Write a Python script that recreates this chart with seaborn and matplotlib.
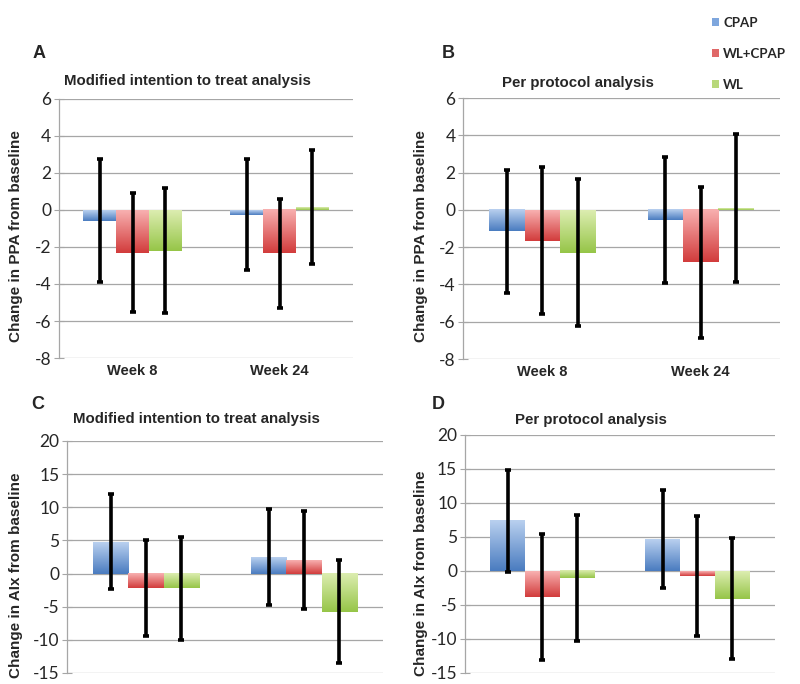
import numpy as np
import pandas as pd
import matplotlib
matplotlib.use("Agg")
import matplotlib.pyplot as plt
import seaborn as sns
from matplotlib.patches import Patch
from matplotlib.colors import to_rgb

# データ（行: CPAP, WL+CPAP, WL / 列: Week 8, Week 24）
weeks = ["Week 8", "Week 24"]
groups = ["CPAP", "WL+CPAP", "WL"]

ppa_itt_mean = [[-0.57, -0.25], [-2.30, -2.35], [-2.20, 0.15]]
ppa_itt_err = [[3.30, 3.00], [3.20, 2.97], [3.37, 3.08]]

ppa_pp_mean = [[-1.15, -0.55], [-1.65, -2.80], [-2.30, 0.10]]
ppa_pp_err = [[3.30, 3.38], [3.93, 4.05], [3.93, 3.98]]

aix_itt_mean = [[4.80, 2.50], [-2.20, 2.05], [-2.25, -5.75]]
aix_itt_err = [[7.20, 7.20], [7.20, 7.45], [7.70, 7.80]]

aix_pp_mean = [[7.40, 4.70], [-3.80, -0.70], [-1.05, -4.05]]
aix_pp_err = [[7.50, 7.15], [9.30, 8.85], [9.30, 8.95]]

# グラデーション（上: 明るい, 下: 濃い）
grad = {
    "CPAP": ("#b9d0ef", "#4a7cc0"),
    "WL+CPAP": ("#f8b0b0", "#d23c3c"),
    "WL": ("#dcedb0", "#96c548"),
}
legend_col = {"CPAP": "#7ea6dd", "WL+CPAP": "#e06868", "WL": "#b8d87a"}

sns.set_style("white")
plt.rcParams["font.family"] = ["Liberation Sans", "DejaVu Sans"]
plt.rcParams["axes.unicode_minus"] = False


def long_df(mean, err):
    rows = []
    for gi, g in enumerate(groups):
        for wi, w in enumerate(weeks):
            rows.append({"week": w, "group": g, "mean": mean[gi][wi], "err": err[gi][wi]})
    return pd.DataFrame(rows)


def draw_panel(ax, mean, err, ylim, yticks, ylabel, show_x):
    df = long_df(mean, err)
    sns.barplot(data=df, x="week", y="mean", hue="group", order=weeks, hue_order=groups,
                width=0.67, errorbar=None, legend=False, ax=ax, edgecolor="none", zorder=2)
    for gi, g in enumerate(groups):
        top, bot = to_rgb(grad[g][0]), to_rgb(grad[g][1])
        img = np.linspace(top, bot, 64).reshape(64, 1, 3)
        for wi, bar in enumerate(ax.containers[gi]):
            x0, w = bar.get_x(), bar.get_width()
            y0, h = bar.get_y(), bar.get_height()
            lo, hi = min(y0, y0 + h), max(y0, y0 + h)
            ax.imshow(img, extent=[x0, x0 + w, lo, hi], aspect="auto", zorder=2.5,
                      interpolation="bilinear")
            bar.set_facecolor("none")
            ax.errorbar(x0 + w / 2, mean[gi][wi], yerr=err[gi][wi], fmt="none",
                        ecolor="black", elinewidth=2.6, capsize=2.5, capthick=2.6, zorder=4)
    ax.set_xlim(-0.5, 1.5)
    ax.set_ylim(*ylim)
    ax.set_yticks(yticks)
    ax.yaxis.grid(True, color="#a6a6a6", linewidth=0.9, zorder=0)
    ax.set_axisbelow(True)
    for s in ["top", "right", "bottom"]:
        ax.spines[s].set_visible(False)
    ax.spines["left"].set_color("#a6a6a6")
    ax.spines["left"].set_linewidth(0.9)
    ax.tick_params(axis="y", which="major", left=True, direction="inout", length=7,
                   color="#a6a6a6", labelsize=12.5, pad=2)
    for t in ax.get_yticklabels():
        t.set_family(["Lato", "DejaVu Sans"])
    ax.tick_params(axis="x", length=0, pad=4)
    if show_x:
        ax.set_xticks([0, 1])
        ax.set_xticklabels(weeks, fontsize=10.5, fontweight="bold")
    else:
        ax.set_xticks([])
    ax.set_xlabel("")
    ax.set_ylabel(ylabel, fontsize=11, fontweight="bold")


fig = plt.figure(figsize=(8, 6.84), dpi=100)

axA = fig.add_axes([0.0738, 0.4766, 0.3675, 0.3787])
axB = fig.add_axes([0.579, 0.4751, 0.396, 0.3816])
axC = fig.add_axes([0.0838, 0.0161, 0.395, 0.3392])
axD = fig.add_axes([0.581, 0.0161, 0.3875, 0.348])

draw_panel(axA, ppa_itt_mean, ppa_itt_err, (-8, 6), range(-8, 7, 2),
           "Change in PPA from baseline", True)
draw_panel(axB, ppa_pp_mean, ppa_pp_err, (-8, 6), range(-8, 7, 2),
           "Change in PPA from baseline", True)
draw_panel(axC, aix_itt_mean, aix_itt_err, (-15, 20), range(-15, 21, 5),
           "Change in AIx from baseline", False)
draw_panel(axD, aix_pp_mean, aix_pp_err, (-15, 20), range(-15, 21, 5),
           "Change in AIx from baseline", False)

axA.yaxis.set_label_coords(-0.122, 0.47)
axB.yaxis.set_label_coords(-0.11, 0.47)
axC.yaxis.set_label_coords(-0.139, 0.42)
axD.yaxis.set_label_coords(-0.119, 0.42)

# パネル文字とサブタイトル
for lbl, x, y in [("A", 0.049, 0.9225), ("B", 0.56, 0.9225), ("C", 0.0475, 0.408), ("D", 0.5475, 0.408)]:
    fig.text(x, y, lbl, fontsize=13, fontweight="bold", ha="center", va="center")

fig.text(0.234, 0.8816, "Modified intention to treat analysis", fontsize=10.8, fontweight="bold",
         ha="center", va="center")
fig.text(0.7225, 0.8787, "Per protocol analysis", fontsize=10.8, fontweight="bold",
         ha="center", va="center")
fig.text(0.246, 0.3874, "Modified intention to treat analysis", fontsize=10.8, fontweight="bold",
         ha="center", va="center")
fig.text(0.739, 0.386, "Per protocol analysis", fontsize=10.8, fontweight="bold",
         ha="center", va="center")

# 凡例
handles = [Patch(facecolor=legend_col[g], edgecolor="none", label=g) for g in groups]
fig.legend(handles=handles, loc="upper left", bbox_to_anchor=(0.875, 0.993), frameon=False,
           handlelength=0.55, handleheight=0.55, handletextpad=0.3, labelspacing=1.45,
           prop={"family": ["Lato", "DejaVu Sans"], "weight": "bold", "size": 9.5})

fig.savefig("out.png", dpi=100)
